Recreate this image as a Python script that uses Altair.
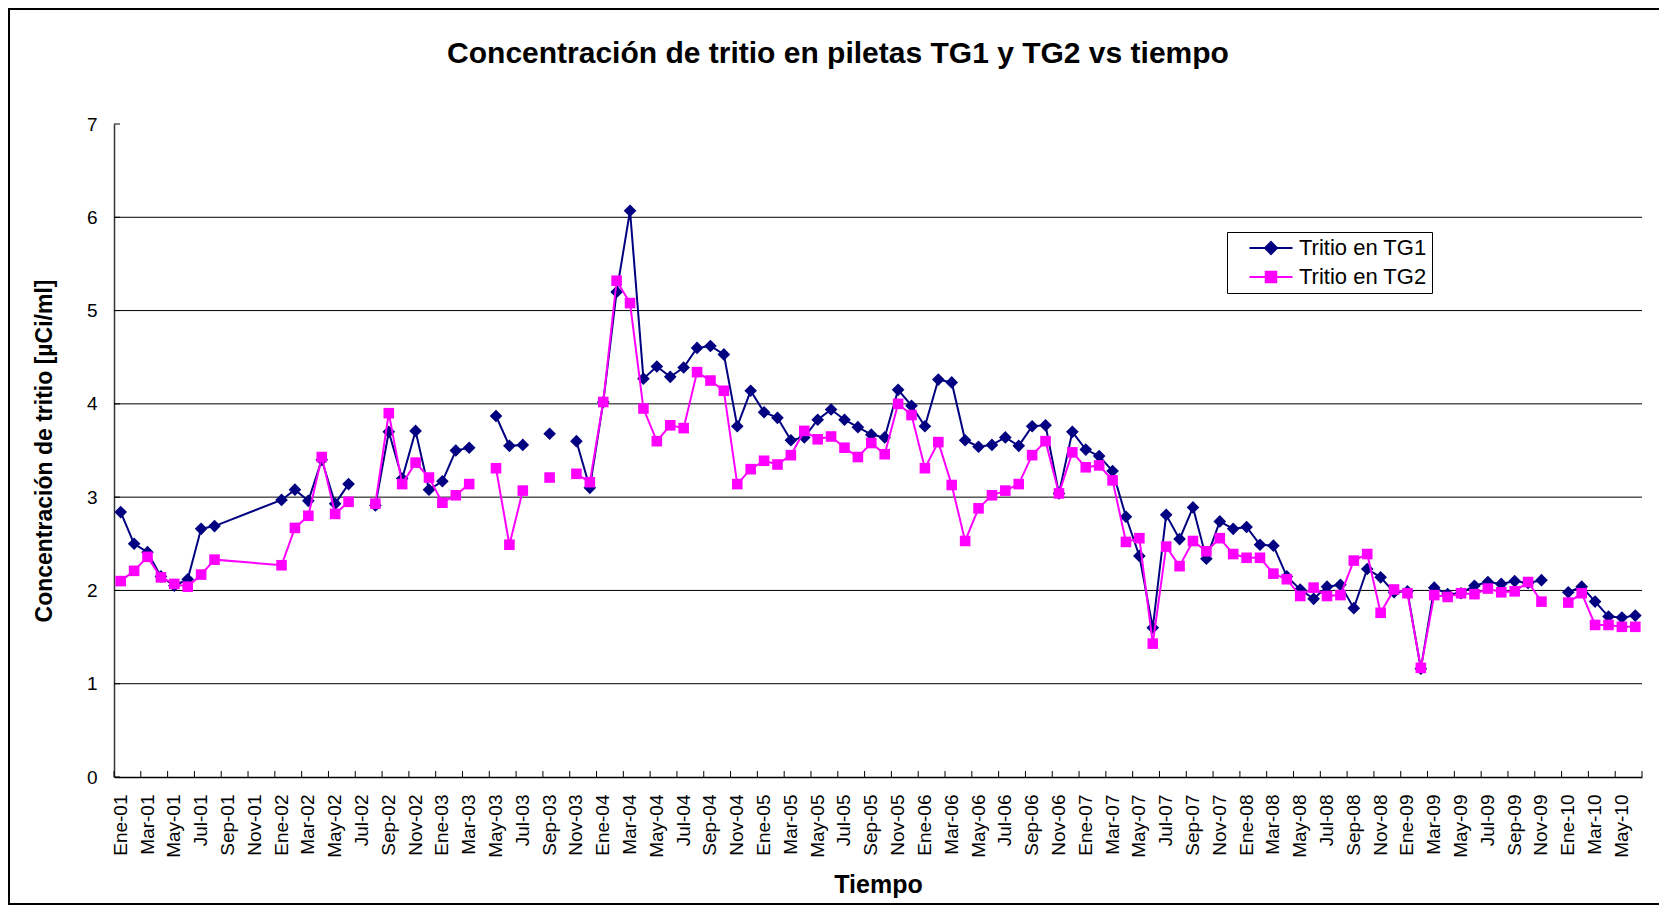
import altair as alt
import pandas as pd

# ---- Category axis (months, Spanish abbreviations) ----
meses = ["Ene", "Feb", "Mar", "Abr", "May", "Jun", "Jul", "Ago", "Sep", "Oct", "Nov", "Dic"]
anios = ["01", "02", "03", "04", "05", "06", "07", "08", "09", "10"]
categorias = [f"{m}-{a}" for a in anios for m in meses][:114]          # Ene-01 .. Jun-10
etiquetas = categorias[::2]                                               # Ene-01, Mar-01, ...
sin_fila = ["Sep-01", "Oct-01", "Nov-01", "Dic-01"]                       # months with no data row
fechas = [c for c in categorias if c not in sin_fila]

# ---- Series values (None = empty cell, line breaks there) ----
tg1 = [2.84, 2.50, 2.41, 2.15, 2.05, 2.12, 2.66, 2.69,
       2.97, 3.08, 2.96, 3.40, 2.93, 3.14, None, 2.91, 3.70, 3.20, 3.71, 3.08,
       3.17, 3.50, 3.53, None, 3.87, 3.55, 3.56, None, 3.68, None, 3.60, 3.10,
       4.02, 5.20, 6.07, 4.27, 4.40, 4.29, 4.39, 4.60, 4.62, 4.53, 3.76, 4.14,
       3.91, 3.85, 3.61, 3.64, 3.83, 3.94, 3.83, 3.75, 3.67, 3.64, 4.15, 3.98,
       3.76, 4.26, 4.23, 3.61, 3.54, 3.56, 3.64, 3.55, 3.76, 3.77, 3.04, 3.70,
       3.51, 3.44, 3.28, 2.79, 2.37, 1.60, 2.81, 2.55, 2.89, 2.34, 2.74, 2.66,
       2.68, 2.49, 2.48, 2.15, 2.01, 1.91, 2.04, 2.06, 1.81, 2.23, 2.14, 1.98,
       1.99, 1.16, 2.03, 1.96, 1.97, 2.05, 2.09, 2.07, 2.10, 2.08, 2.11, None,
       1.98, 2.04, 1.88, 1.72, 1.71, 1.73]
tg2 = [2.10, 2.21, 2.36, 2.14, 2.07, 2.04, 2.17, 2.33,
       2.27, 2.67, 2.80, 3.43, 2.82, 2.95, None, 2.93, 3.90, 3.14, 3.37, 3.21,
       2.94, 3.02, 3.14, None, 3.31, 2.49, 3.07, None, 3.21, None, 3.25, 3.16,
       4.02, 5.32, 5.08, 3.95, 3.60, 3.77, 3.74, 4.34, 4.25, 4.14, 3.14, 3.30,
       3.39, 3.35, 3.45, 3.71, 3.62, 3.65, 3.53, 3.43, 3.58, 3.46, 4.00, 3.88,
       3.31, 3.59, 3.13, 2.53, 2.88, 3.02, 3.07, 3.14, 3.45, 3.60, 3.04, 3.48,
       3.32, 3.34, 3.18, 2.52, 2.56, 1.43, 2.47, 2.26, 2.53, 2.42, 2.56, 2.39,
       2.35, 2.35, 2.18, 2.12, 1.94, 2.03, 1.94, 1.95, 2.32, 2.39, 1.76, 2.01,
       1.97, 1.17, 1.95, 1.93, 1.97, 1.96, 2.02, 1.98, 1.99, 2.09, 1.88, None,
       1.87, 1.97, 1.63, 1.63, 1.61, 1.61]

series = ["Tritio en TG1", "Tritio en TG2"]
colores = ["#000080", "#FF00FF"]
valores_y = [0, 1, 2, 3, 4, 5, 6, 7]
grid_y = [1, 2, 3, 4, 5, 6]

FONT = "Liberation Sans"
W, H = 1528, 653


def tabla(nombre, vals):
    seg, filas = 0, []
    for f, v in zip(fechas, vals):
        if v is None:
            seg += 1
            continue
        filas.append({"fecha": f, "valor": v, "serie": nombre, "seg": seg})
    return pd.DataFrame(filas)


df1 = tabla(series[0], tg1)
df2 = tabla(series[1], tg2)

xscale = alt.Scale(type="band", domain=categorias, paddingInner=0, paddingOuter=0)
yscale = alt.Scale(domain=[0, 7], nice=False, zero=True)

x_axis = alt.Axis(values=etiquetas, labelAngle=270, labelAlign="right", labelBaseline="middle",
                  labelPadding=17, labelFontSize=19, labelFont=FONT, labelColor="black",
                  labelOverlap=False, ticks=False, grid=False, domainColor="black", domainWidth=1.5,
                  titleFont=FONT, titleFontSize=25, titleFontWeight="bold",
                  titleColor="black", titlePadding=15)
y_axis = alt.Axis(values=valores_y, format="d", labelPadding=17, labelFontSize=19, labelFont=FONT,
                  labelColor="black", ticks=False, grid=False, domainColor="#333333", domainWidth=1.5,
                  titleFont=FONT, titleFontSize=23,
                  titleFontWeight="bold", titleColor="black", titlePadding=30)


def X(ax=alt.Undefined, title=alt.Undefined):
    return alt.X("fecha:N", scale=xscale, bandPosition=0.5, axis=ax, title=title)


def Y(ax=alt.Undefined, title=alt.Undefined):
    return alt.Y("valor:Q", scale=yscale, axis=ax, title=title)


# frame of the chart area (decoration)
marco = alt.Chart(alt.Data(values=[{}])).mark_rect(fillOpacity=0, stroke="black", strokeWidth=2).encode(
    x=alt.value(-105), x2=alt.value(W + 30), y=alt.value(-115), y2=alt.value(H + 127))

grid = alt.Chart(pd.DataFrame({"valor": grid_y})).mark_rule(color="black", strokeWidth=1).encode(
    y=Y(), x=alt.value(0), x2=alt.value(W))

yticks = alt.Chart(pd.DataFrame({"valor": valores_y})).mark_rule(color="black", strokeWidth=1).encode(
    y=Y(), x=alt.value(0), x2=alt.value(6))

xticks = alt.Chart(pd.DataFrame({"fecha": etiquetas})).mark_rule(color="black", strokeWidth=1).encode(
    x=alt.X("fecha:N", scale=xscale, bandPosition=0), y=alt.value(H - 6), y2=alt.value(H))
xtick_fin = alt.Chart(alt.Data(values=[{}])).mark_rule(color="black", strokeWidth=1).encode(
    x=alt.value(W), y=alt.value(H - 6), y2=alt.value(H))

linea1 = alt.Chart(df1).mark_line(color=colores[0], strokeWidth=2).encode(
    x=X(x_axis, "Tiempo"), y=Y(y_axis, "Concentración de tritio [µCi/ml]"), detail="seg:N")
puntos1 = alt.Chart(df1).mark_point(shape="diamond", filled=True, color=colores[0], size=160, opacity=1).encode(
    x=X(), y=Y())
linea2 = alt.Chart(df2).mark_line(color=colores[1], strokeWidth=2).encode(
    x=X(), y=Y(), detail="seg:N")
puntos2 = alt.Chart(df2).mark_point(shape="square", filled=True, color=colores[1], size=112, opacity=1).encode(
    x=X(), y=Y())

# legend (line + marker symbols)
simbolos = ["M-2.87,0L2.87,0M0,-0.8L0.8,0L0,0.8L-0.8,0Z",
            "M-2.87,0L2.87,0M-0.7,-0.7L0.7,-0.7L0.7,0.7L-0.7,0.7Z"]
leg = dict(title=None, orient="none", legendX=1113, legendY=108)
leyenda = alt.Chart(pd.concat([df1, df2])).transform_filter("false").mark_point(
    filled=True, opacity=1, strokeWidth=2).encode(
    fill=alt.Fill("serie:N", scale=alt.Scale(domain=series, range=colores), legend=alt.Legend(**leg)),
    stroke=alt.Stroke("serie:N", scale=alt.Scale(domain=series, range=colores), legend=alt.Legend(**leg)),
    shape=alt.Shape("serie:N", scale=alt.Scale(domain=series, range=simbolos), legend=alt.Legend(**leg)),
)

chart = alt.layer(marco, grid, yticks, xticks, xtick_fin, linea1, puntos1, linea2, puntos2, leyenda).properties(
    width=W, height=H,
    padding={"left": 106, "top": 116, "right": 17, "bottom": 128},
    autosize=alt.AutoSizeParams(type="none"),
    title=alt.TitleParams("Concentración de tritio en piletas TG1 y TG2 vs tiempo", font=FONT, fontSize=30,
                          fontWeight="bold", color="black", anchor="middle", dx=-40, offset=0, dy=85,
                          baseline="alphabetic"),
).configure(background="white").configure_view(stroke=None).configure_legend(
    padding=5, symbolOffset=28, labelOffset=17,
    rowPadding=7, symbolSize=225, symbolStrokeWidth=2, labelFont=FONT, labelFontSize=22,
    labelColor="black", strokeColor="black", strokeWidth=1, fillColor="white", cornerRadius=0,
)

chart.save("out.html", embed_options={"renderer": "svg", "actions": False})
